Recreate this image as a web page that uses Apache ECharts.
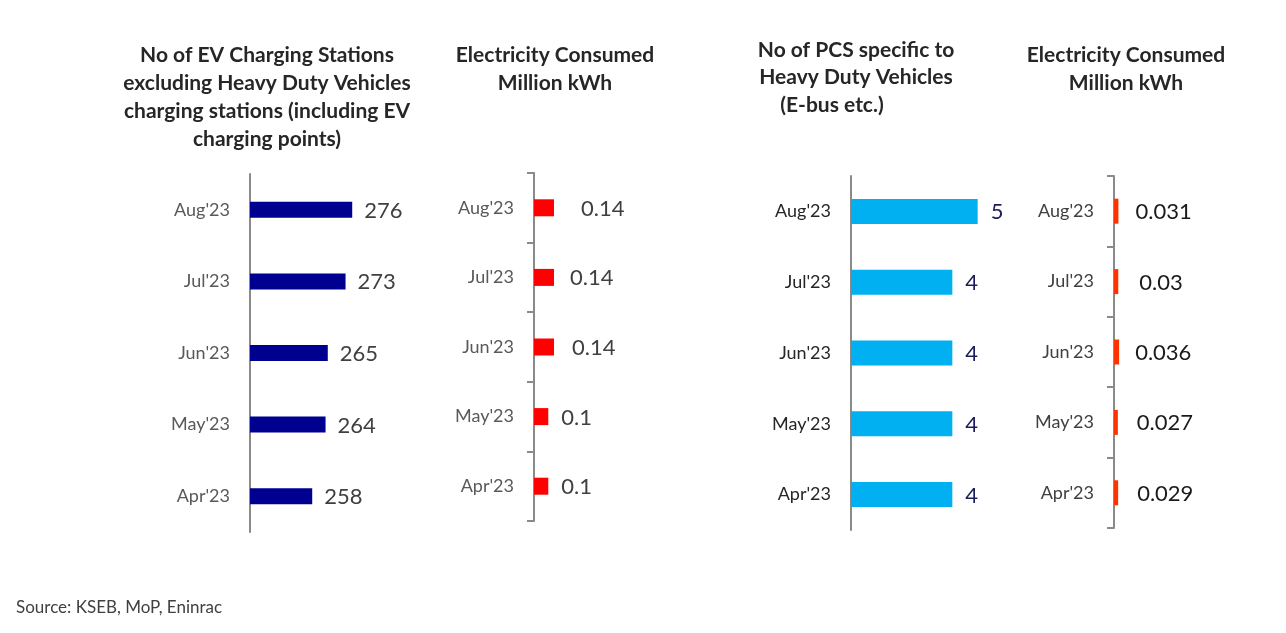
<!DOCTYPE html>
<html>
<head>
<meta charset="utf-8">
<script src="https://cdn.jsdelivr.net/npm/echarts@6/dist/echarts.min.js"></script>
<style>
  html, body { margin: 0; padding: 0; background: #ffffff; }
  #chart { width: 1286px; height: 633px; }
</style>
</head>
<body>
<div id="chart"></div>
<script>
// ---- data ----
const categories = ["Aug'23", "Jul'23", "Jun'23", "May'23", "Apr'23"];
const evStations = [276, 273, 265, 264, 258];
const evEnergy = [0.14, 0.14, 0.14, 0.1, 0.1];
const hdvStations = [5, 4, 4, 4, 4];
const hdvEnergy = [0.031, 0.03, 0.036, 0.027, 0.029];

const titleEv = "No of EV Charging Stations\nexcluding Heavy Duty Vehicles\ncharging stations (including EV\ncharging points)";
const titleEnergy = "Electricity Consumed\nMillion kWh";
const titleHdv = "No of PCS specific to\nHeavy Duty Vehicles";
const titleHdv3 = "(E-bus etc.)";
const sourceText = "Source: KSEB, MoP, Eninrac";

// ---- chart ----
const FONT = 'Lato';
const axisGray = '#8a8a8a';

const panels = [
  { grid: { left: 250, top: 174, width: 160, height: 358 }, min: 230, max: 302, data: evStations,
    color: '#000090', barWidth: 16, ticks: false, catColor: '#595959', valColor: '#404040', gaps: [12, 12, 12, 12, 12] },
  { grid: { left: 534, top: 173, width: 100, height: 348 }, min: 0, max: 0.7, data: evEnergy,
    color: '#ff0000', barWidth: 17, ticks: true, catColor: '#595959', valColor: '#404040', gaps: [27, 16, 18, 13, 13] },
  { grid: { left: 851, top: 176, width: 152, height: 354 }, min: 0, max: 6, data: hdvStations,
    color: '#00b0f0', barWidth: 25, ticks: false, catColor: '#262626', valColor: '#1c1c5c', gaps: [13, 13, 13, 13, 13] },
  { grid: { left: 1114, top: 176, width: 100, height: 352 }, min: 0, max: 0.7, data: hdvEnergy,
    color: '#ff3300', barWidth: 25, ticks: true, catColor: '#404040', valColor: '#1a1a1a', gaps: [17, 21, 16, 19, 19] }
];

const titleStyle = { fontFamily: FONT, fontSize: 21, fontWeight: 'bold', color: '#262626', lineHeight: 28 };

const option = {
  backgroundColor: '#ffffff',
  animation: false,
  title: [
    { text: titleEv, left: 267, top: 41, textAlign: 'center', padding: 0, textStyle: Object.assign({ align: 'center' }, titleStyle) },
    { text: titleEnergy, left: 555, top: 41, textAlign: 'center', padding: 0, textStyle: Object.assign({ align: 'center' }, titleStyle) },
    { text: titleHdv, left: 856, top: 36, textAlign: 'center', padding: 0, textStyle: Object.assign({ align: 'center' }, titleStyle, { lineHeight: 27.5 }) },
    { text: titleHdv3, left: 832, top: 91, textAlign: 'center', padding: 0, textStyle: Object.assign({}, titleStyle, { lineHeight: 27.5 }) },
    { text: titleEnergy, left: 1126, top: 41, textAlign: 'center', padding: 0, textStyle: Object.assign({ align: 'center' }, titleStyle) },
    { text: sourceText, left: 16, top: 599, padding: 0, textStyle: { fontFamily: FONT, fontSize: 17, fontWeight: 'normal', color: '#404040' } }
  ],
  grid: panels.map(p => p.grid),
  xAxis: panels.map((p, i) => ({
    type: 'value', gridIndex: i, min: p.min, max: p.max, show: false, splitLine: { show: false }
  })),
  yAxis: panels.map((p, i) => ({
    type: 'category', gridIndex: i, data: categories, inverse: true,
    axisLine: { show: true, onZero: false, lineStyle: { color: axisGray, width: 2 } },
    axisTick: { show: p.ticks, inside: false, length: 7, lineStyle: { color: axisGray, width: 2 } },
    axisLabel: { margin: 20, fontFamily: FONT, fontSize: 18, color: p.catColor },
    splitLine: { show: false }
  })),
  series: panels.map((p, i) => ({
    type: 'bar', xAxisIndex: i, yAxisIndex: i, barWidth: p.barWidth,
    itemStyle: { color: p.color },
    data: p.data.map((v, j) => ({ value: v, label: { distance: p.gaps[j] } })),
    label: { show: true, position: 'right', fontFamily: FONT, fontSize: 22, color: p.valColor, offset: [0, 1] }
  }))
};

const chart = echarts.init(document.getElementById('chart'), null, { renderer: 'canvas' });
chart.setOption(option);
</script>
</body>
</html>
